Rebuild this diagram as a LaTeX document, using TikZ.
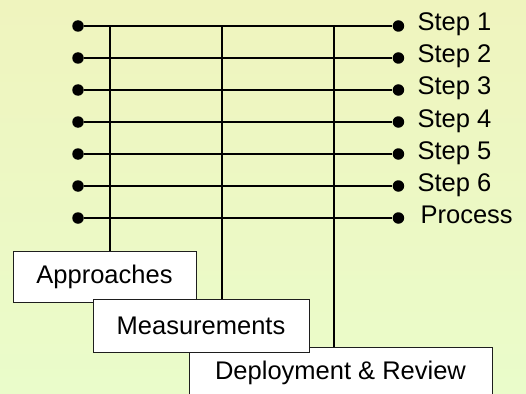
\documentclass[tikz,border=0pt]{standalone}
\usepackage{fontspec}
\setmainfont{Liberation Sans}
\usetikzlibrary{positioning}
\definecolor{bgtop}{RGB}{239,244,190}
\definecolor{bgbottom}{RGB}{234,252,202}
\definecolor{rim}{RGB}{30,30,30}
\tikzset{
	% end point of a step line
	dot/.style={
		circle,
		fill=black,
		inner sep=0pt,
		minimum size=11.5pt
	},
	% step line
	rail/.style={
		line width=2pt,
		black
	},
	% text beside the right end point
	steplabel/.style={
		anchor=base west,
		inner sep=0pt,
		font=\fontsize{25.5}{28}\selectfont
	},
	% box style
	box/.style={
		rectangle,
		draw=rim, line width=0.9pt,
		fill=white,
		inner sep=0pt,
		font=\fontsize{25.5}{28}\selectfont
	}
}
\begin{document}
\begin{tikzpicture}[x=1pt,y=-1pt]
	\useasboundingbox (0,0) rectangle (526,393);
	\fill[top color=bgtop,bottom color=bgbottom] (0,0) rectangle (526,393);

	% left end points
	\node[dot] (l1) at (78,26) {};
	\node[dot] (l2) at (78,58) {};
	\node[dot] (l3) at (78,90) {};
	\node[dot] (l4) at (78,122) {};
	\node[dot] (l5) at (78,154) {};
	\node[dot] (l6) at (78,186) {};
	\node[dot] (l7) at (78,218) {};

	% right end points
	\node[dot,right=308.5pt of l1] (r1) {};
	\node[dot,right=308.5pt of l2] (r2) {};
	\node[dot,right=308.5pt of l3] (r3) {};
	\node[dot,right=308.5pt of l4] (r4) {};
	\node[dot,right=308.5pt of l5] (r5) {};
	\node[dot,right=308.5pt of l6] (r6) {};
	\node[dot,right=308.5pt of l7] (r7) {};

	\node[steplabel] (s1) at ([shift={(19,5)}]r1.center) {Step 1};
	\node[steplabel] (s2) at ([shift={(19,5)}]r2.center) {Step 2};
	\node[steplabel] (s3) at ([shift={(19,5)}]r3.center) {Step 3};
	\node[steplabel] (s4) at ([shift={(19,5)}]r4.center) {Step 4};
	\node[steplabel] (s5) at ([shift={(19,5)}]r5.center) {Step 5};
	\node[steplabel] (s6) at ([shift={(19,5)}]r6.center) {Step 6};
	\node[steplabel] (s7) at ([shift={(22,5)}]r7.center) {Process};

	\draw[rail] (l1) -- (r1);
	\draw[rail] (l2) -- (r2);
	\draw[rail] (l3) -- (r3);
	\draw[rail] (l4) -- (r4);
	\draw[rail] (l5) -- (r5);
	\draw[rail] (l6) -- (r6);
	\draw[rail] (l7) -- (r7);

	% boxes below the steps
	\node[box,minimum width=303pt,minimum height=52pt] (deploy) at (340.5,373)
		{Deployment \& Review};
	\node[box,minimum width=183pt,minimum height=51pt] (appr) at (104.5,276.5)
		{Approaches};
	\node[box,minimum width=216pt,minimum height=53pt] (meas) at (201,325.5)
		{Measurements};

	% drops from the first step down to the boxes
	\coordinate (v1) at (110,26);
	\coordinate (v2) at (222,26);
	\coordinate (v3) at (334,26);
	\draw[rail] (v1) -- (v1 |- appr.north);
	\draw[rail] (v2) -- (v2 |- meas.north);
	\draw[rail] (v3) -- (v3 |- deploy.north);
\end{tikzpicture}
\end{document}
